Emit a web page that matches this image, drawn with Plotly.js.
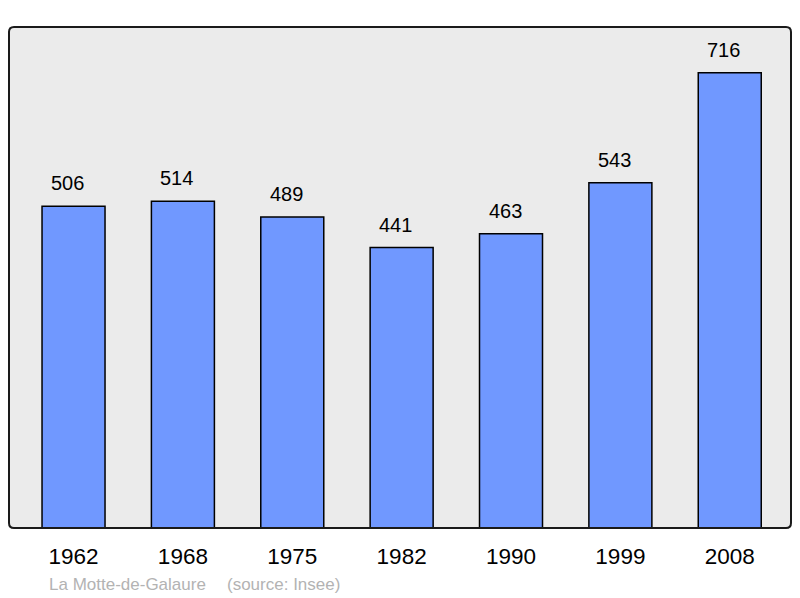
<!DOCTYPE html>
<html><head><meta charset="utf-8">
<script src="https://cdn.plot.ly/plotly-3.0.1.min.js"></script>
<style>html,body{margin:0;padding:0;background:#fff}#c{width:800px;height:598px}</style>
</head><body><div id="c"></div>
<script>
const years = ["1962","1968","1975","1982","1990","1999","2008"];
const population = [506,514,489,441,463,543,716];
const captionPlace = "La Motte-de-Galaure";
const captionSource = "(source: Insee)";

const idx = years.map((_, i) => i);
const W = 782, H = 501, r = 5;
const rx = r / W, ry = r / H;
const path = `M ${rx} 0 L ${1-rx} 0 Q 1 0 1 ${ry} L 1 ${1-ry} Q 1 1 ${1-rx} 1 L ${rx} 1 Q 0 1 0 ${1-ry} L 0 ${ry} Q 0 0 ${rx} 0 Z`;
const font = "Liberation Sans, Arial, sans-serif";

const annotations = population.map((v, i) => ({
  x: i, y: v, text: String(v), showarrow: false, yshift: 23, xshift: -6,
  font: {family: font, size: 20, color: "#000"}
}));
annotations.push({
  xref: "paper", yref: "paper", x: 38/782, y: -56/501, xanchor: "left", yanchor: "middle",
  text: captionPlace, showarrow: false,
  font: {family: font, size: 17, color: "#b3b3b3"}
});
annotations.push({
  xref: "paper", yref: "paper", x: 216/782, y: -56/501, xanchor: "left", yanchor: "middle",
  text: captionSource, showarrow: false,
  font: {family: font, size: 17, color: "#b3b3b3"}
});

Plotly.newPlot("c", [{
  type: "bar", x: idx, y: population, width: 0.576,
  marker: {color: "#7098ff", line: {color: "#000", width: 1.5}},
  hoverinfo: "none"
}], {
  width: 800, height: 598,
  margin: {l: 9, r: 9, t: 27, b: 70},
  paper_bgcolor: "#fff", plot_bgcolor: "#ebebeb",
  showlegend: false,
  xaxis: {range: [-0.59, 6.56], tickvals: idx, ticktext: years, showgrid: false, zeroline: false,
          ticks: "", ticklabelstandoff: 12,
          tickfont: {family: font, size: 22.5, color: "#000"}},
  yaxis: {range: [0, 788], showgrid: false, zeroline: false, showticklabels: false, ticks: ""},
  shapes: [{type: "path", xref: "paper", yref: "paper", path: path, line: {color: "#1a1a1a", width: 2}, fillcolor: "rgba(0,0,0,0)", layer: "above"}],
  annotations: annotations
}, {staticPlot: true});
</script></body></html>
